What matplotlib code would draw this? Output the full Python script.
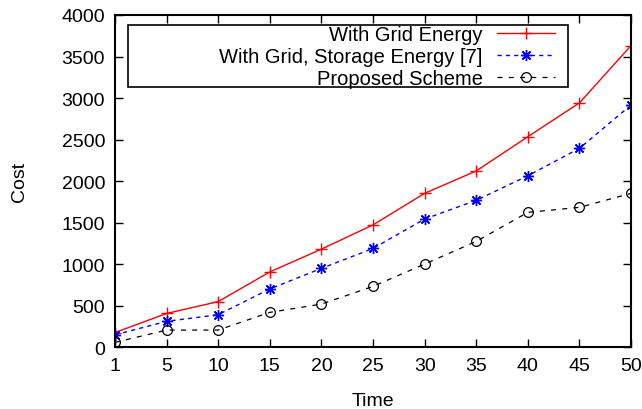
import matplotlib
matplotlib.use("Agg")
import matplotlib.pyplot as plt
from matplotlib.patches import Rectangle
import numpy as np

plt.rcParams['font.family'] = ['Liberation Sans', 'DejaVu Sans']

time_labels = ['1', '5', '10', '15', '20', '25', '30', '35', '40', '45', '50']
grid_energy = [175, 405, 548, 905, 1180, 1472, 1852, 2122, 2534, 2942, 3632]
grid_storage = [148, 310, 390, 700, 948, 1188, 1542, 1768, 2064, 2394, 2916]
proposed = [56, 205, 205, 418, 518, 731, 1000, 1273, 1623, 1683, 1852]

fig = plt.figure(figsize=(6.42, 4.10), dpi=100)
ax = fig.add_axes([0.179, 0.151, 0.804, 0.810])

x = np.arange(len(time_labels))
ax.plot(x, grid_energy, color='#ff0000', lw=1.0, marker='+', ms=8,
        mew=1.0, label='With Grid Energy')
ax.plot(x, grid_storage, color='#0000ff', lw=1.0, ls=(0, (3, 3)),
        marker=(8, 2, 0), ms=8, mew=1.0,
        label='With Grid, Storage Energy [7]')
ax.plot(x, proposed, color='#000000', lw=0.9, ls=(0, (4, 5)),
        marker='o', ms=7, mfc='none', mew=0.9, label='Proposed Scheme')

ax.set_xlim(0, len(time_labels) - 1)
ax.set_ylim(0, 4000)
ax.set_xticks(x)
ax.set_xticklabels(time_labels)
ax.set_yticks(np.arange(0, 4001, 500))
ax.tick_params(direction='in', length=6, width=1.0, top=True, right=True,
               labelsize=14, pad=7)
for s in ax.spines.values():
    s.set_linewidth(1.5)

ax.set_xlabel('Time', fontsize=14, labelpad=13)
ax.set_ylabel('Cost', fontsize=14, labelpad=24)

# gnuplot-style key: text right-aligned, sample on the right, wide box
leg = ax.legend(loc='upper right', bbox_to_anchor=(0.857, 0.975),
                markerfirst=False, fontsize=14.5, frameon=False,
                handlelength=2.9, handletextpad=0.7,
                labelspacing=0.15, borderpad=0.1, borderaxespad=0)
leg._legend_box._children[-1]._children[0].align = 'right'

box_left, box_right, box_top, box_bottom = 0.025, 0.878, 0.970, 0.783
ax.add_patch(Rectangle((box_left, box_bottom), box_right - box_left,
                       box_top - box_bottom, transform=ax.transAxes,
                       fill=False, lw=1.2, ec='black', zorder=6))

fig.savefig('out.png', dpi=100)
